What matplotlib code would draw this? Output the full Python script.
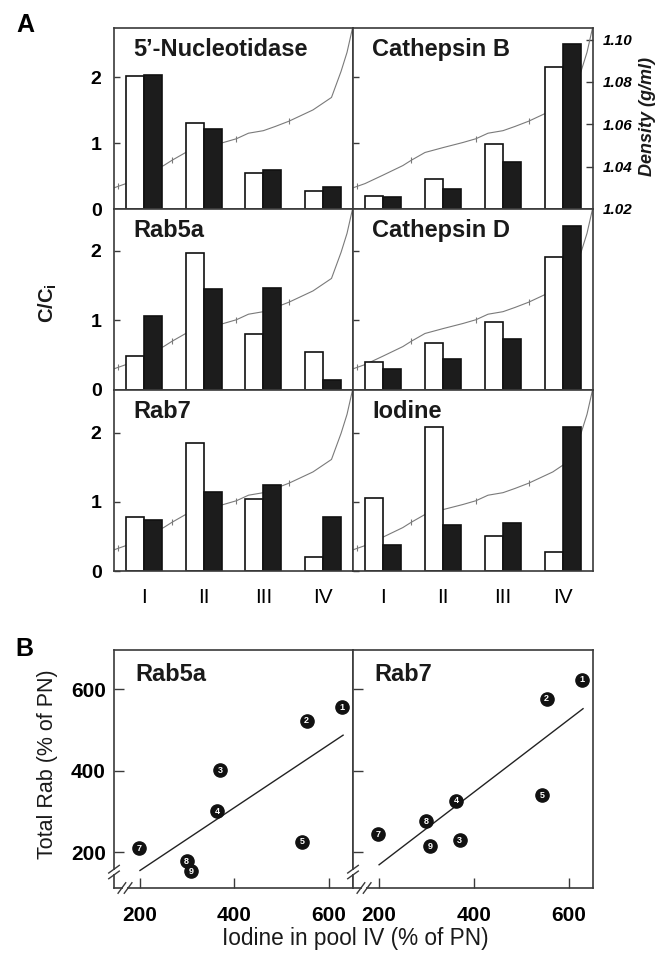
import numpy as np
import matplotlib
matplotlib.use('Agg')
import matplotlib.pyplot as plt
from matplotlib.lines import Line2D
from matplotlib.patches import Rectangle

plt.rcParams['font.family'] = ['Liberation Sans', 'DejaVu Sans']
plt.rcParams['mathtext.fontset'] = 'custom'
plt.rcParams['mathtext.rm'] = 'Liberation Sans'
plt.rcParams['mathtext.bf'] = 'Liberation Sans:bold'
plt.rcParams['mathtext.it'] = 'Liberation Sans:italic'

# ---------------- data: panel A ----------------
pools = ['I', 'II', 'III', 'IV']
panel_titles = ['5\u2019-Nucleotidase', 'Cathepsin B', 'Rab5a', 'Cathepsin D', 'Rab7', 'Iodine']

nucleotidase_open = [2.02, 1.31, 0.55, 0.27]
nucleotidase_filled = [2.04, 1.21, 0.60, 0.33]
cathepsinB_open = [0.20, 0.46, 0.98, 2.15]
cathepsinB_filled = [0.18, 0.31, 0.72, 2.50]
rab5a_open = [0.49, 1.97, 0.81, 0.54]
rab5a_filled = [1.06, 1.45, 1.46, 0.14]
cathepsinD_open = [0.40, 0.67, 0.98, 1.91]
cathepsinD_filled = [0.30, 0.44, 0.73, 2.36]
rab7_open = [0.78, 1.85, 1.04, 0.20]
rab7_filled = [0.74, 1.14, 1.24, 0.78]
iodine_open = [1.05, 2.08, 0.51, 0.27]
iodine_filled = [0.37, 0.67, 0.70, 2.09]

density_x = [0.0, 0.2, 0.5, 0.83, 0.97, 1.2, 1.5, 1.83, 2.05, 2.25, 2.5, 2.7, 2.93, 3.33, 3.64, 3.8, 3.9, 4.0]
density_y = [1.0300, 1.0320, 1.0360, 1.0405, 1.0430, 1.0467, 1.0490, 1.0514, 1.0532, 1.0558,
             1.0570, 1.0590, 1.0615, 1.0668, 1.0727, 1.0850, 1.0940, 1.1065]
density_tick_x = [0.07, 0.97, 2.05, 2.93]
density_ticks = [1.02, 1.04, 1.06, 1.08, 1.10]

# ---------------- data: panel B ----------------
point_ids = [1, 2, 3, 4, 5, 7, 8, 9]
iodine_iv = [627, 553, 370, 363, 543, 198, 299, 308]
rab5a_total = [555, 522, 401, 300, 225, 210, 178, 153]
rab7_total = [623, 576, 229, 326, 340, 244, 276, 214]
fit_x = [200, 630]
rab5a_fit = [155, 487]
rab7_fit = [169, 552]

# ---------------- layout ----------------
W, H = 667, 959
fig = plt.figure(figsize=(W / 100, H / 100), dpi=100)


def rect(l, t, r, b):
    return [l / W, 1 - b / H, (r - l) / W, (b - t) / H]


col_edges = [(114, 353), (353, 593)]
row_edges = [(28, 209), (209, 390), (390, 571)]
row_ymax = [2.75, 2.6, 2.62]
spine_col = '#3a3a3a'
curve_col = '#7a7a7a'
bar_dark = '#1c1c1c'

open_sets = [nucleotidase_open, cathepsinB_open, rab5a_open, cathepsinD_open, rab7_open, iodine_open]
filled_sets = [nucleotidase_filled, cathepsinB_filled, rab5a_filled, cathepsinD_filled, rab7_filled, iodine_filled]

bw = 0.3
xpos = np.arange(len(pools)) + 0.5

for idx in range(6):
    r, c = divmod(idx, 2)
    l, rr = col_edges[c]
    t, b = row_edges[r]
    ax_d = fig.add_axes(rect(l, t, rr, b))
    ax_d.plot(density_x, density_y, color=curve_col, lw=0.8)
    ax_d.plot(density_tick_x, np.interp(density_tick_x, density_x, density_y), ls='none',
              marker='|', ms=5, mew=0.8, color=curve_col)
    ax_d.set_xlim(0, 4)
    ax_d.set_ylim(1.02, 1.1055)
    for s in ax_d.spines.values():
        s.set_visible(False)

    ax_b = ax_d.twinx()
    ax_d.yaxis.tick_right()
    ax_b.yaxis.tick_left()
    ax_b.bar(xpos - bw / 2, open_sets[idx], width=bw, facecolor='white', edgecolor='#111111', lw=1.2)
    ax_b.bar(xpos + bw / 2, filled_sets[idx], width=bw, facecolor=bar_dark, edgecolor='#111111', lw=1.2)
    ax_b.set_xlim(0, 4)
    ax_b.set_ylim(0, row_ymax[r])
    ax_b.set_yticks([0, 1, 2])
    ax_b.tick_params(axis='y', direction='in', length=4, width=1, pad=9, labelsize=14,
                     color=spine_col, labelleft=(c == 0))
    for lab in ax_b.get_yticklabels():
        lab.set_fontweight('bold')
    for s in ax_b.spines.values():
        s.set_color(spine_col)
        s.set_linewidth(1.2)

    # density axis (right)
    if r == 0 and c == 1:
        ax_d.set_yticks(density_ticks)
        ax_d.set_yticklabels(['%.2f' % v for v in density_ticks])
        ax_d.tick_params(axis='y', direction='in', length=5, width=1, pad=7, labelsize=11,
                         color=spine_col)
        for lab in ax_d.get_yticklabels():
            lab.set_fontweight('bold')
            lab.set_fontstyle('italic')
    else:
        ax_d.set_yticks([])

    if r == 2:
        ax_d.set_xticks(xpos)
        ax_d.set_xticklabels(pools)
        ax_d.tick_params(axis='x', length=0, pad=12, labelsize=15)
    else:
        ax_d.set_xticks([])

    ax_b.text(0.08, 0.88, panel_titles[idx], transform=ax_b.transAxes, fontsize=17,
              fontweight='bold', ha='left', va='center', color='#1a1a1a')

fig.text(647 / W, 1 - 117 / H, 'Density (g/ml)', rotation=90, fontsize=13, fontweight='bold',
         style='italic', ha='center', va='center', color='#1a1a1a')
fig.text(48 / W, 1 - 303 / H, r'C/C$_\mathbf{i}$', rotation=90, fontsize=14.5, fontweight='bold',
         ha='center', va='center', color='#1a1a1a')
fig.text(25 / W, 1 - 25 / H, 'A', fontsize=18, fontweight='bold', ha='center', va='center')
fig.text(24 / W, 1 - 649 / H, 'B', fontsize=18, fontweight='bold', ha='center', va='center')

# ---------------- panel B ----------------
b_titles = ['Rab5a', 'Rab7']
b_sets = [rab5a_total, rab7_total]
b_fits = [rab5a_fit, rab7_fit]


def draw_breaks(ax):
    tr = ax.transAxes
    # left spine break
    fy = 0.067
    for off in (-0.012, 0.012):
        ax.add_line(Line2D([-0.022, 0.022], [fy + off - 0.016, fy + off + 0.016], transform=tr,
                           color=spine_col, lw=1.0, clip_on=False, zorder=6))
    ax.add_patch(Rectangle((-0.01, fy - 0.008), 0.02, 0.016, transform=tr, facecolor='white',
                           edgecolor='none', clip_on=False, zorder=5))
    # bottom spine break
    fx = 0.046
    for off in (-0.013, 0.013):
        ax.add_line(Line2D([fx + off - 0.016, fx + off + 0.016], [-0.022, 0.022], transform=tr,
                           color=spine_col, lw=1.0, clip_on=False, zorder=6))
    ax.add_patch(Rectangle((fx - 0.009, -0.01), 0.018, 0.02, transform=tr, facecolor='white',
                           edgecolor='none', clip_on=False, zorder=5))


for c in range(2):
    l, rr = col_edges[c]
    ax = fig.add_axes(rect(l, 650, rr, 888))
    ax.set_xlim(145, 651)
    ax.set_ylim(112, 696)
    ax.plot(fit_x, b_fits[c], color='#222222', lw=1.0)
    for xv, yv, n in zip(iodine_iv, b_sets[c], point_ids):
        ax.plot(xv, yv, 'o', ms=9.5, color='#111111', zorder=3)
        ax.text(xv, yv, str(n), color='white', fontsize=6.5, fontweight='bold', ha='center',
                va='center', zorder=4)
    ax.set_xticks([200, 400, 600])
    ax.set_yticks([200, 400, 600])
    ax.tick_params(axis='x', direction='in', length=7, width=1, pad=13, labelsize=15, color=spine_col)
    ax.tick_params(axis='y', direction='in', length=7, width=1, pad=6, labelsize=15, color=spine_col,
                   labelleft=(c == 0))
    for lab in ax.get_xticklabels() + ax.get_yticklabels():
        lab.set_fontweight('bold')
    for s in ax.spines.values():
        s.set_color(spine_col)
        s.set_linewidth(1.2)
    ax.text(0.088, 0.895, b_titles[c], transform=ax.transAxes, fontsize=17, fontweight='bold',
            ha='left', va='center', color='#1a1a1a')
    draw_breaks(ax)

fig.text(355 / W, 1 - 939 / H, 'Iodine in pool IV (% of PN)', fontsize=16.3, ha='center', va='center',
         color='#1a1a1a')
fig.text(48 / W, 1 - 764 / H, 'Total Rab (% of PN)', rotation=90, fontsize=15.5, ha='center',
         va='center', color='#1a1a1a')

fig.savefig('out.png', dpi=100)
